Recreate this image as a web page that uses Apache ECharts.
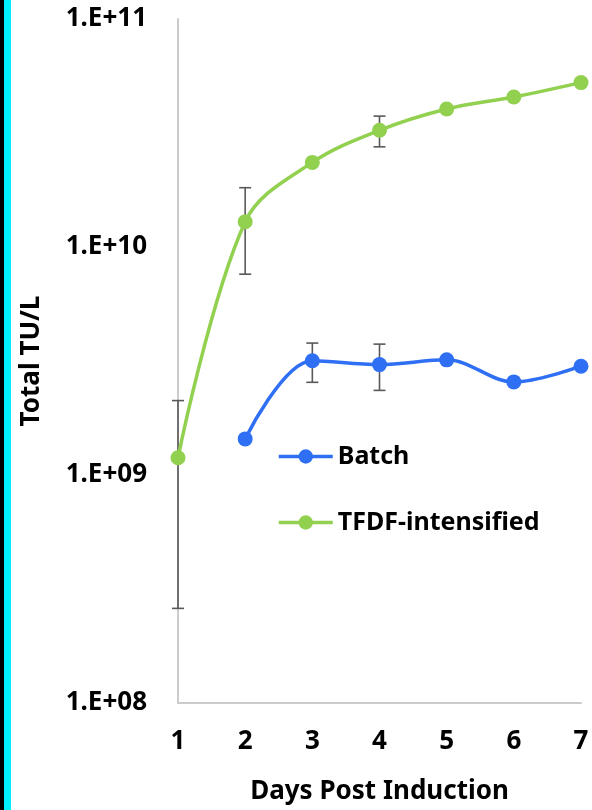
<!DOCTYPE html>
<html><head><meta charset="utf-8">
<script src="https://cdn.jsdelivr.net/npm/echarts@6/dist/echarts.min.js"></script>
<style>html,body{margin:0;padding:0;background:#fff}#c{width:592px;height:810px}</style>
</head><body><div id="c"></div>
<script>
const days = [1, 2, 3, 4, 5, 6, 7];
const batch = [null, 1.44e9, 3.17e9, 3.05e9, 3.2e9, 2.56e9, 3.0e9];
const batchErr = [null, null, 0.62e9, 0.70e9, null, null, null];
const tfdf = [1.19e9, 1.29e10, 2.35e10, 3.25e10, 4.03e10, 4.55e10, 5.26e10];
const tfdfErr = [0.93e9, 0.53e10, null, 0.5e10, null, null, null];
const yTicks = [1e8, 1e9, 1e10, 1e11];

const FONT = 'Noto Sans';
const blue = '#2f6ff4', green = '#92d050';

function pairs(vals){ return days.map((d,i)=>[d, vals[i]]); }
function errData(vals, errs){
  const out=[];
  days.forEach((d,i)=>{ if(errs[i]!=null && vals[i]!=null) out.push([d, vals[i]-errs[i], vals[i]+errs[i]]); });
  return out;
}
function errSeries(vals, errs){
  return {
    type:'custom', z:1, silent:true, clip:false,
    data: errData(vals, errs),
    encode:{x:0, y:[1,2]},
    renderItem(params, api){
      const x = api.value(0);
      const lo = api.coord([x, api.value(1)]);
      const hi = api.coord([x, api.value(2)]);
      const hw = 6;
      const st = {stroke:'#595959', lineWidth:1.6};
      return {type:'group', children:[
        {type:'line', shape:{x1:lo[0], y1:lo[1], x2:hi[0], y2:hi[1]}, style:st},
        {type:'line', shape:{x1:lo[0]-hw, y1:lo[1], x2:lo[0]+hw, y2:lo[1]}, style:st},
        {type:'line', shape:{x1:hi[0]-hw, y1:hi[1], x2:hi[0]+hw, y2:hi[1]}, style:st}
      ]};
    }
  };
}

const chart = echarts.init(document.getElementById('c'));
chart.setOption({
  backgroundColor:'#fff',
  animation:false,
  graphic:[
    {type:'rect', left:0, top:0, shape:{width:4, height:810}, style:{fill:'#000'}},
    {type:'rect', left:4, top:0, shape:{width:7, height:810}, style:{fill:'#00f0ff'}}
  ],
  grid:{left:178, right:11, top:19, bottom:105},
  xAxis:{
    type:'value', min:1, max:7, interval:1,
    name:'Days Post Induction', nameLocation:'middle', nameGap:76,
    nameTextStyle:{fontFamily:FONT, fontWeight:'bold', fontSize:26, color:'#000'},
    axisLine:{lineStyle:{color:'#cccccc', width:2}},
    axisTick:{show:false}, splitLine:{show:false},
    axisLabel:{fontFamily:FONT, fontWeight:'bold', fontSize:26, color:'#000', margin:26}
  },
  yAxis:{
    type:'log', logBase:10, min:yTicks[0], max:yTicks[yTicks.length-1],
    name:'Total TU/L', nameLocation:'middle', nameGap:133, nameRotate:90,
    nameTextStyle:{fontFamily:FONT, fontWeight:'bold', fontSize:26, color:'#000'},
    axisLine:{show:true, lineStyle:{color:'#cccccc', width:2}},
    axisTick:{show:false}, splitLine:{show:false}, minorSplitLine:{show:false},
    axisLabel:{fontFamily:FONT, fontWeight:'bold', fontSize:26, color:'#000', margin:31,
      formatter:v=>{const e=Math.round(Math.log10(v)); return '1.E+'+(e<10?'0'+e:e);}}
  },
  legend:{
    orient:'vertical', left:272, top:439, itemGap:41, itemWidth:54, itemHeight:18,
    lineStyle:{width:3.5},
    textStyle:{fontFamily:FONT, fontWeight:'bold', fontSize:25, color:'#000', padding:[0,0,0,0]},
    data:['Batch','TFDF-intensified']
  },
  series:[
    errSeries(batch, batchErr),
    errSeries(tfdf, tfdfErr),
    {name:'Batch', type:'line', z:3, data:pairs(batch), smooth:0.35, connectNulls:false, clip:false,
     symbol:'circle', symbolSize:15, itemStyle:{color:blue}, lineStyle:{color:blue, width:3.5}},
    {name:'TFDF-intensified', type:'line', z:3, data:pairs(tfdf), smooth:0.35, clip:false,
     symbol:'circle', symbolSize:15, itemStyle:{color:green}, lineStyle:{color:green, width:3.5}}
  ]
});
</script></body></html>
